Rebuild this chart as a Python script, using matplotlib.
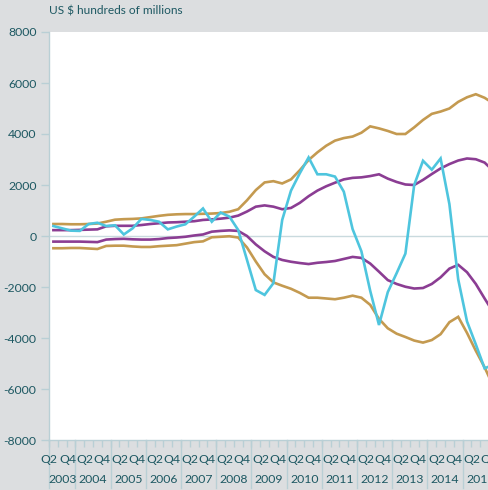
import matplotlib
matplotlib.use("Agg")
import matplotlib.pyplot as plt
import matplotlib.transforms as mtransforms

# Quarterly series, 2003 Q2 .. 2015 Q4 (US $ hundreds of millions)
years = list(range(2003, 2016))
quarters = [(2003, q) for q in (2, 3, 4)] + [(y, q) for y in range(2004, 2016) for q in (1, 2, 3, 4)]

gold_upper = [470, 470, 460, 460, 470, 490, 560, 640, 660, 670, 690, 740, 790, 830, 850, 860,
              860, 870, 880, 900, 950, 1050, 1400, 1800, 2100, 2150, 2060, 2220, 2580, 2980,
              3280, 3540, 3740, 3840, 3900, 4050, 4300, 4220, 4120, 4000, 4000, 4260, 4550,
              4790, 4880, 5000, 5260, 5440, 5560, 5420, 5200]
purple_upper = [230, 230, 230, 240, 250, 260, 380, 400, 400, 400, 430, 470, 500, 530, 540, 560,
                580, 630, 650, 680, 720, 800, 960, 1150, 1200, 1150, 1050, 1100, 1300, 1560,
                1780, 1950, 2090, 2220, 2280, 2300, 2350, 2420, 2250, 2120, 2020, 2000, 2200,
                2430, 2650, 2820, 2960, 3040, 3010, 2880, 2550]
purple_lower = [-220, -220, -220, -220, -230, -240, -140, -120, -110, -130, -140, -140, -120,
                -80, -60, -30, 20, 60, 170, 200, 220, 200, 0, -330, -600, -820, -940, -1010,
                -1060, -1100, -1050, -1020, -980, -900, -820, -860, -1080, -1400, -1730, -1880,
                -1990, -2060, -2040, -1880, -1620, -1280, -1130, -1420, -1880, -2450, -3000]
gold_lower = [-480, -480, -470, -470, -490, -510, -390, -380, -380, -410, -430, -430, -400,
              -380, -360, -300, -240, -210, -50, -30, -10, -60, -450, -1000, -1500, -1820,
              -1950, -2070, -2230, -2420, -2420, -2450, -2480, -2420, -2340, -2420, -2700,
              -3250, -3620, -3830, -3960, -4100, -4180, -4080, -3850, -3380, -3170, -3800,
              -4500, -5150, -5900]
cyan = [390, 300, 210, 200, 470, 520, 390, 420, 60, 300, 670, 630, 560, 260, 370, 460, 760,
        1080, 560, 920, 760, 235, -940, -2120, -2310, -1850, 630, 1780, 2460, 3080, 2420, 2420,
        2330, 1740, 270, -600, -2150, -3490, -2200, -1460, -690, 2000, 2950, 2600, 3040, 1250,
        -1700, -3350, -4250, -5190, -5050]

y_ticks = [-8000, -6000, -4000, -2000, 0, 2000, 4000, 6000, 8000]

GOLD = "#c49a50"
PURPLE = "#8b3d93"
CYAN = "#4ec5de"
BG = "#dcdee0"
TEXT = "#1d5862"
AXIS = "#b9cfd5"
FONT = "Lato"
FS = 8.8

W, H = 489, 490
fig = plt.figure(figsize=(W / 100, H / 100), dpi=100, facecolor=BG)
ax = fig.add_axes([49 / W, 50 / H, 440 / W, 408 / H])
ax.set_facecolor("white")

x = list(range(len(quarters)))
for series, color, z in [(gold_upper, GOLD, 2), (gold_lower, GOLD, 2),
                         (purple_upper, PURPLE, 3), (purple_lower, PURPLE, 3),
                         (cyan, CYAN, 4)]:
    ax.plot(x, series, color=color, lw=1.9, zorder=z, solid_joinstyle="miter")

ax.axhline(0, color="#c9dade", lw=1.0, zorder=1)

for side in ("top", "right"):
    ax.spines[side].set_visible(False)
for side in ("left", "bottom"):
    ax.spines[side].set_color(AXIS)
    ax.spines[side].set_linewidth(1.0)

ax.set_yticks(y_ticks)
ax.set_yticklabels([str(v) for v in y_ticks], fontsize=FS, color=TEXT, family=FONT)
ax.tick_params(axis="y", direction="out", length=6, width=1.0, color=AXIS, pad=3)

# quarter boundary ticks on the category axis
ax.set_xticks([])
ax.set_xticks([i - 0.5 for i in range(len(quarters) + 1)], minor=True)
ax.tick_params(axis="x", which="minor", direction="out", length=5, width=1.0, color=AXIS)
ax.tick_params(axis="x", which="major", length=0)
ax.set_xticklabels([])

# visible window: 2003 Q2 through 2015 Q3
ax.set_xlim(-0.5, 49.5)
ax.set_ylim(-8000, 8000)

trans = mtransforms.blended_transform_factory(ax.transData, ax.transAxes)
ax_h_px = 408
q_row = -19 / ax_h_px
y_row = -39 / ax_h_px
lab = dict(transform=trans, va="center", fontsize=FS, color=TEXT, family=FONT,
           clip_on=False, zorder=6)
for yr in years:
    idx = [i for i, (y, q) in enumerate(quarters) if y == yr]
    start = idx[0] - 0.5
    end = idx[-1] + 0.5
    mid = (start + end) / 2
    # year separator running down through the label rows
    ax.plot([start, start], [0, -48 / ax_h_px], transform=trans, color=AXIS, lw=1.0,
            clip_on=False, zorder=1)
    ax.text(mid, y_row, str(yr), ha="center", **lab)
    if len(idx) == 4:
        ax.text(mid, q_row, "Q2", ha="right", **lab)
        ax.text(mid, q_row, "Q4", ha="left", **lab)
    else:
        ax.text(start, q_row, "Q2", ha="center", **lab)
        ax.text(end - 0.9, q_row, "Q4", ha="center", **lab)

ax.set_xlim(-0.5, 49.5)

fig.text(49 / W, 1 - 11 / H, "US $ hundreds of millions", ha="left", va="center",
         fontsize=8.6, color=TEXT, family=FONT)

fig.savefig("out.png", dpi=100, facecolor=BG)
